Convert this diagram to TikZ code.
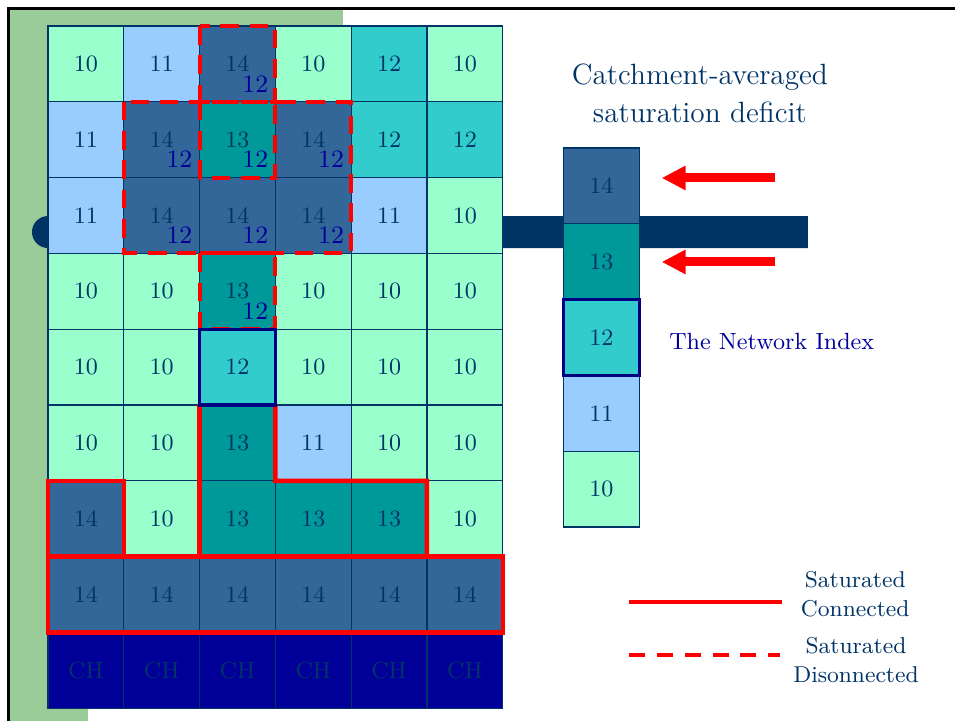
\documentclass[tikz,border=0pt]{standalone}
\usepackage{fontspec}
\usetikzlibrary{arrows.meta,positioning}

\definecolor{navy}{HTML}{003366}
\definecolor{pad}{HTML}{99CC99}
\definecolor{sd10}{HTML}{99FFCC}
\definecolor{sd11}{HTML}{99CCFF}
\definecolor{sd12}{HTML}{33CCCC}
\definecolor{sd13}{HTML}{009999}
\definecolor{sd14}{HTML}{336699}
\definecolor{chan}{HTML}{000099}
\definecolor{idx}{HTML}{000080}
\definecolor{wet}{HTML}{FF0000}

\tikzset{
  cell/.style={draw=navy, line width=0.4pt, minimum size=1cm, inner sep=0pt,
    outer sep=0pt, text=navy, font=\fontsize{8.8}{10}\selectfont},
  v10/.style={cell, fill=sd10},
  v11/.style={cell, fill=sd11},
  v12/.style={cell, fill=sd12},
  v13/.style={cell, fill=sd13},
  v14/.style={cell, fill=sd14},
  ch/.style={cell, fill=chan},
  note/.style={text=chan, inner sep=0pt, xshift=0.235cm, yshift=-0.262cm,
    font=\fontsize{9.4}{10}\selectfont},
  linked/.style={draw=wet, line width=1.7pt},
  unlinked/.style={draw=wet, line width=1.5pt, dash pattern=on 7pt off 4pt},
  netbox/.style={draw=idx, line width=1.2pt},
  push/.style={draw=wet, line width=3.4pt, -{Triangle[length=9pt,width=8.6pt]}},
  caption/.style={text=navy, inner sep=0pt, align=center},
}

\begin{document}
\begin{tikzpicture}
\useasboundingbox (-0.633,0.343) rectangle (11.966,-9.156);

\fill[pad] (-0.52,0.23) rectangle (3.892,-1);
\fill[pad] (-0.52,0.23) rectangle (0.528,-9.2);
\draw[black, line width=1.1pt] (11.97,0.231) -- (-0.521,0.231) -- (-0.521,-9.2);

% river
\fill[navy] (10.026,-2.507) -- (0,-2.507) arc[start angle=90, end angle=270, radius=0.211]
  -- (10.026,-2.929) -- cycle;

\node[v10] (r1c1) at (0.5,-0.5) {10};
\node[v11] (r1c2) at (1.5,-0.5) {11};
\node[v14] (r1c3) at (2.5,-0.5) {14};
\node[v10] (r1c4) at (3.5,-0.5) {10};
\node[v12] (r1c5) at (4.5,-0.5) {12};
\node[v10] (r1c6) at (5.5,-0.5) {10};

\node[v11] (r2c1) at (0.5,-1.5) {11};
\node[v14] (r2c2) at (1.5,-1.5) {14};
\node[v13] (r2c3) at (2.5,-1.5) {13};
\node[v14] (r2c4) at (3.5,-1.5) {14};
\node[v12] (r2c5) at (4.5,-1.5) {12};
\node[v12] (r2c6) at (5.5,-1.5) {12};

\node[v11] (r3c1) at (0.5,-2.5) {11};
\node[v14] (r3c2) at (1.5,-2.5) {14};
\node[v14] (r3c3) at (2.5,-2.5) {14};
\node[v14] (r3c4) at (3.5,-2.5) {14};
\node[v11] (r3c5) at (4.5,-2.5) {11};
\node[v10] (r3c6) at (5.5,-2.5) {10};

\node[v10] (r4c1) at (0.5,-3.5) {10};
\node[v10] (r4c2) at (1.5,-3.5) {10};
\node[v13] (r4c3) at (2.5,-3.5) {13};
\node[v10] (r4c4) at (3.5,-3.5) {10};
\node[v10] (r4c5) at (4.5,-3.5) {10};
\node[v10] (r4c6) at (5.5,-3.5) {10};

\node[v10] (r5c1) at (0.5,-4.5) {10};
\node[v10] (r5c2) at (1.5,-4.5) {10};
\node[v12] (r5c3) at (2.5,-4.5) {12};
\node[v10] (r5c4) at (3.5,-4.5) {10};
\node[v10] (r5c5) at (4.5,-4.5) {10};
\node[v10] (r5c6) at (5.5,-4.5) {10};

\node[v10] (r6c1) at (0.5,-5.5) {10};
\node[v10] (r6c2) at (1.5,-5.5) {10};
\node[v13] (r6c3) at (2.5,-5.5) {13};
\node[v11] (r6c4) at (3.5,-5.5) {11};
\node[v10] (r6c5) at (4.5,-5.5) {10};
\node[v10] (r6c6) at (5.5,-5.5) {10};

\node[v14] (r7c1) at (0.5,-6.5) {14};
\node[v10] (r7c2) at (1.5,-6.5) {10};
\node[v13] (r7c3) at (2.5,-6.5) {13};
\node[v13] (r7c4) at (3.5,-6.5) {13};
\node[v13] (r7c5) at (4.5,-6.5) {13};
\node[v10] (r7c6) at (5.5,-6.5) {10};

\node[v14] (r8c1) at (0.5,-7.5) {14};
\node[v14] (r8c2) at (1.5,-7.5) {14};
\node[v14] (r8c3) at (2.5,-7.5) {14};
\node[v14] (r8c4) at (3.5,-7.5) {14};
\node[v14] (r8c5) at (4.5,-7.5) {14};
\node[v14] (r8c6) at (5.5,-7.5) {14};

\node[ch] (r9c1) at (0.5,-8.5) {CH};
\node[ch] (r9c2) at (1.5,-8.5) {CH};
\node[ch] (r9c3) at (2.5,-8.5) {CH};
\node[ch] (r9c4) at (3.5,-8.5) {CH};
\node[ch] (r9c5) at (4.5,-8.5) {CH};
\node[ch] (r9c6) at (5.5,-8.5) {CH};

% network index values
\node[note] (n1c3) at (r1c3) {12};
\node[note] (n2c2) at (r2c2) {12};
\node[note] (n2c3) at (r2c3) {12};
\node[note] (n2c4) at (r2c4) {12};
\node[note] (n3c2) at (r3c2) {12};
\node[note] (n3c3) at (r3c3) {12};
\node[note] (n3c4) at (r3c4) {12};
\node[note] (n4c3) at (r4c3) {12};

\draw[unlinked] (r1c3.north west) rectangle (r1c3.south east);
\draw[unlinked] (r2c2.north west) rectangle (r3c4.south east);
\draw[unlinked] (r2c3.north west) rectangle (r2c3.south east);
\draw[unlinked] (r4c3.north west) rectangle (r4c3.south east);

\draw[linked] (r7c1.north west) rectangle (r7c1.south east);
\draw[linked] (r8c1.north west) rectangle (r8c6.south east);
\draw[linked] (r6c3.north west) -- (r7c3.south west);
\draw[linked] (r6c3.north east) -- (r6c3.south east) -- (r7c5.north east) -- (r7c5.south east);

\draw[netbox] (r5c3.north west) rectangle (r5c3.south east);

% averaged column
\node[v14] (k14) at (7.3,-2.11) {14};
\node[v13, below=0pt of k14] (k13) {13};
\node[v12, below=0pt of k13] (k12) {12};
\node[v11, below=0pt of k12] (k11) {11};
\node[v10, below=0pt of k11] (k10) {10};
\draw[netbox] (k12.north west) rectangle (k12.south east);

\coordinate (tail1) at (9.591,-2.005);
\coordinate (tip1) at (8.096,-2.005);
\coordinate (tail2) at (9.591,-3.113);
\coordinate (tip2) at (8.096,-3.113);
\draw[push] (tail1) -- (tip1);
\draw[push] (tail2) -- (tip2);

\node[caption, font=\fontsize{11}{14.3}\selectfont] (avg) at (8.6,-0.884)
  {Catchment-averaged\\saturation deficit};
\node[caption, text=chan, anchor=west, font=\fontsize{8.8}{10}\selectfont] (nwi)
  at (8.19,-4.156) {The Network Index};

% legend
\coordinate (solidL) at (7.66,-7.599);
\coordinate (solidR) at (9.68,-7.599);
\coordinate (dashL) at (7.66,-8.298);
\coordinate (dashR) at (9.66,-8.298);
\draw[linked] (solidL) -- (solidR);
\draw[unlinked, dash pattern=on 6pt off 4.5pt] (dashL) -- (dashR);
\node[caption, font=\fontsize{8.6}{10.9}\selectfont] (keyc) at (10.65,-7.49)
  {Saturated\\Connected};
\node[caption, font=\fontsize{8.6}{10.9}\selectfont] (keyd) at (10.66,-8.36)
  {Saturated\\Disonnected};
\end{tikzpicture}
\end{document}
